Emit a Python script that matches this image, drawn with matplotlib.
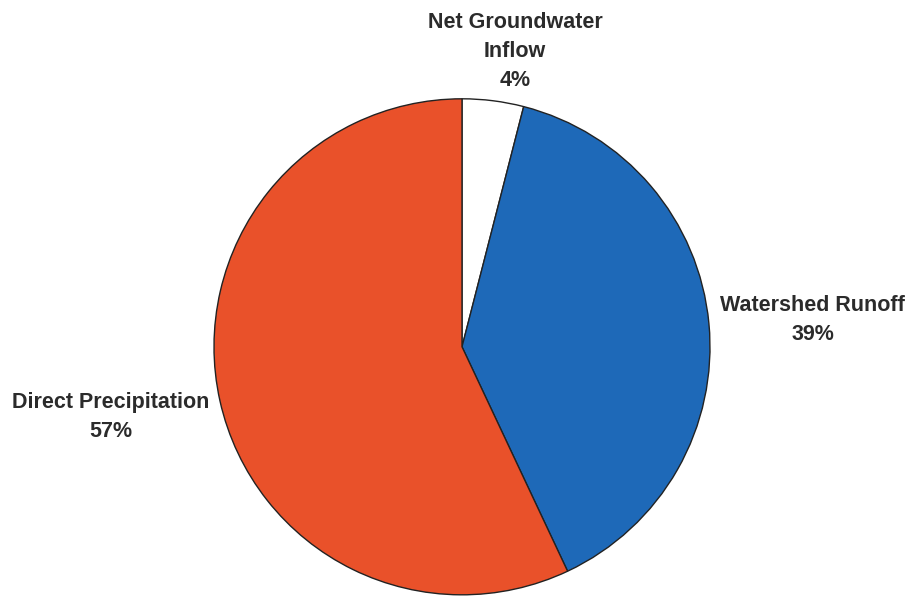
import matplotlib.pyplot as plt

# water budget shares, clockwise from 12 o'clock
labels = ['Net Groundwater\nInflow', 'Watershed Runoff', 'Direct Precipitation']
shares = [4, 39, 57]
colors = ['#FFFFFF', '#1E69B8', '#E9512A']

fig = plt.figure(figsize=(9.11, 5.96), dpi=100)
# pie centre at about (462, 348) px, radius 248 px
ax = fig.add_axes([(462 - 248) / 911, (596 - 348 - 248) / 596 + 0.002, 496 / 911, 496 / 596])

wedges, _ = ax.pie(shares, colors=colors, startangle=90, counterclock=False,
                   wedgeprops=dict(edgecolor='#222222', linewidth=1.0))
for w in wedges:
    w.set_clip_on(False)
ax.set_xlim(-1, 1)
ax.set_ylim(-1, 1)
ax.set_aspect('equal')
ax.axis('off')

# label spots (data coords)
spots = [(0.214, 1.19), (1.415, 0.109), (-1.415, -0.282)]
for lab, val, (x, y) in zip(labels, shares, spots):
    ax.text(x, y, f'{lab}\n{val}%', ha='center', va='center', fontsize=15.5,
            fontweight='bold', color='#2B2B2B', family='Liberation Sans',
            linespacing=1.5, clip_on=False)

fig.savefig('out.png', dpi=100)
